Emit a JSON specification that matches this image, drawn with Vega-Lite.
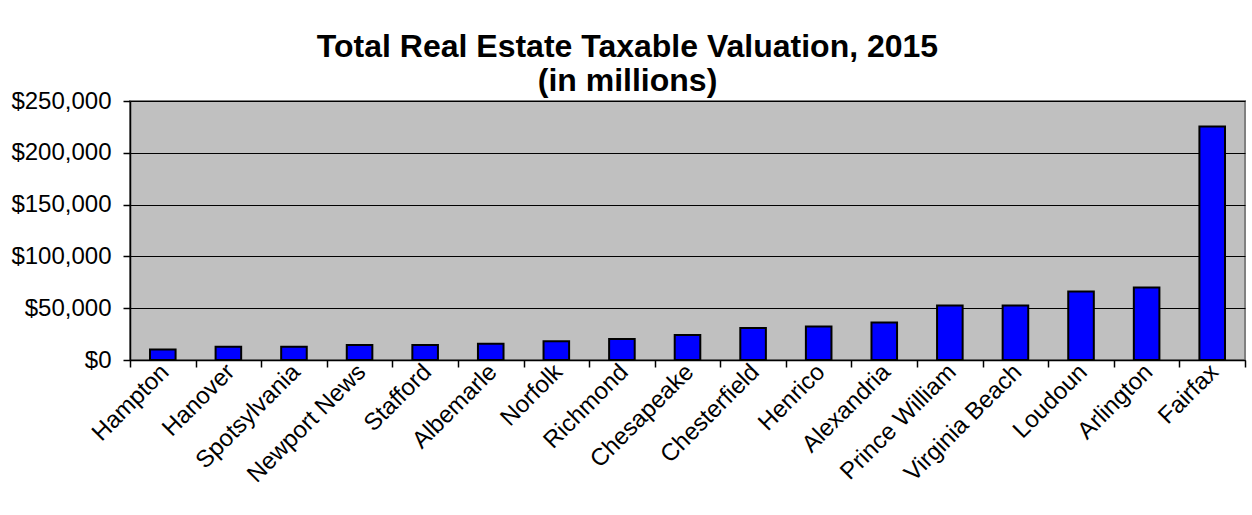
{
  "$schema": "https://vega.github.io/schema/vega-lite/v6.json",
  "autosize": {"type": "none"},
  "padding": {"left": 130, "top": 101, "right": 7, "bottom": 155},
  "width": 1115,
  "height": 259,
  "background": "white",
  "title": {
    "text": ["Total Real Estate Taxable Valuation, 2015", "(in millions)"],
    "font": "Liberation Sans",
    "fontSize": 32,
    "fontWeight": "bold",
    "color": "black",
    "lineHeight": 34,
    "anchor": "middle",
    "frame": "group",
    "dx": -60,
    "offset": -9
  },
  "data": {
    "values": [
      {"locality": "Hampton", "value": 10100},
      {"locality": "Hanover", "value": 12700},
      {"locality": "Spotsylvania", "value": 12700},
      {"locality": "Newport News", "value": 14400},
      {"locality": "Stafford", "value": 14400},
      {"locality": "Albemarle", "value": 15700},
      {"locality": "Norfolk", "value": 18000},
      {"locality": "Richmond", "value": 20300},
      {"locality": "Chesapeake", "value": 24200},
      {"locality": "Chesterfield", "value": 31000},
      {"locality": "Henrico", "value": 32400},
      {"locality": "Alexandria", "value": 36300},
      {"locality": "Prince William", "value": 52600},
      {"locality": "Virginia Beach", "value": 52600},
      {"locality": "Loudoun", "value": 66000},
      {"locality": "Arlington", "value": 69900},
      {"locality": "Fairfax", "value": 225500}
    ]
  },
  "mark": {
    "type": "bar",
    "color": "#0000FF",
    "stroke": "black",
    "strokeWidth": 2,
    "width": {"band": 0.39}
  },
  "encoding": {
    "x": {
      "field": "locality",
      "type": "nominal",
      "sort": null,
      "scale": {"paddingInner": 0, "paddingOuter": 0},
      "axis": {
        "title": null,
        "labelAngle": -45,
        "labelAlign": "right",
        "labelBaseline": "middle",
        "labelFont": "Liberation Sans",
        "labelFontSize": 24,
        "labelColor": "black",
        "labelPadding": 1,
        "labelOffset": 2,
        "labelOverlap": false,
        "tickBand": "extent",
        "tickSize": 7,
        "tickColor": "black",
        "tickWidth": 1.5,
        "domainColor": "black",
        "domainWidth": 1.5
      }
    },
    "y": {
      "field": "value",
      "type": "quantitative",
      "scale": {"domain": [0, 250000], "nice": false},
      "axis": {
        "title": null,
        "values": [0, 50000, 100000, 150000, 200000, 250000],
        "format": "$,d",
        "labelFont": "Liberation Sans",
        "labelFontSize": 24,
        "labelColor": "black",
        "labelPadding": 12,
        "tickSize": 7,
        "tickColor": "black",
        "tickWidth": 1.5,
        "domainColor": "black",
        "domainWidth": 1.5,
        "grid": true,
        "gridColor": "black",
        "gridWidth": 1.2,
        "gridOpacity": 1
      }
    }
  },
  "config": {
    "view": {"fill": "#C0C0C0", "stroke": "#808080", "strokeWidth": 2}
  }
}
